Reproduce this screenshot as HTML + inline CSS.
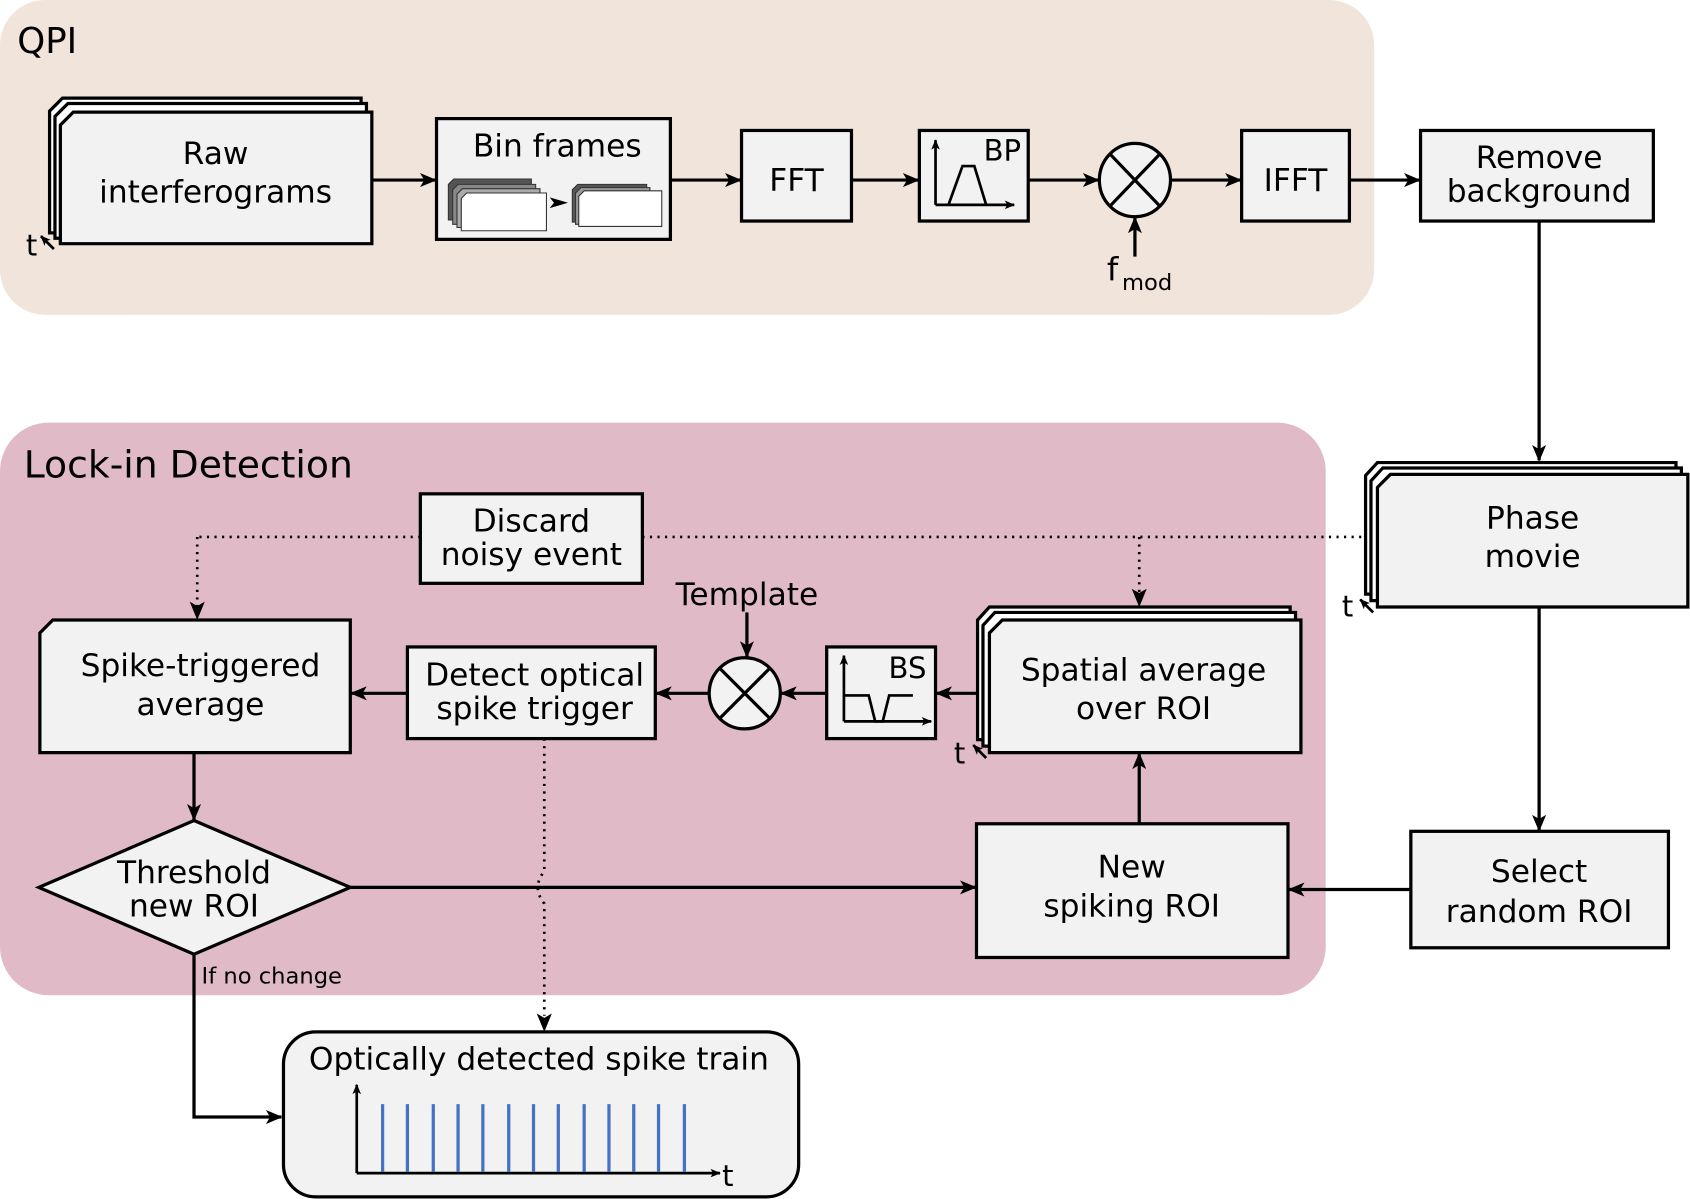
<!DOCTYPE html>
<html><head><meta charset="utf-8"><style>
html,body{margin:0;padding:0;background:#fff;}
svg{display:block;}
text{font-family:"DejaVu Sans","Liberation Sans",sans-serif;fill:#000;}
</style></head><body>
<svg width="1690" height="1199" viewBox="0 0 1568 1112" preserveAspectRatio="none" xmlns="http://www.w3.org/2000/svg">
<defs>
<marker id="ah" viewBox="0 0 12 10" refX="11" refY="5" markerWidth="18" markerHeight="13" markerUnits="userSpaceOnUse" orient="auto">
<path d="M0,0 L12,5 L0,10 L3,5 z" fill="#000"/></marker>
<marker id="ahs" viewBox="0 0 12 10" refX="11" refY="5" markerWidth="10" markerHeight="8" markerUnits="userSpaceOnUse" orient="auto">
<path d="M0,0 L12,5 L0,10 L3,5 z" fill="#000"/></marker>
</defs>
<rect x="0" y="0" width="1275" height="292" rx="42" fill="#f1e4db"/>
<rect x="0" y="392" width="1230" height="531" rx="45" fill="#e0bbc7"/>
<text x="16" y="49" font-size="33">QPI</text>
<text x="22" y="443" font-size="35">Lock-in Detection</text>

<g stroke="#000" stroke-width="3" fill="#f2f2f2">
<path d="M58,91 L335,91 L335,216 L46,216 L46,103 Z" fill="#fff"/>
<path d="M63,96 L340,96 L340,221 L51,221 L51,108 Z" fill="#fff"/>
<path d="M68,104 L345,104 L345,226 L56,226 L56,116 Z"/>
<rect x="405" y="110" width="217" height="112"/>
<rect x="688" y="121" width="102" height="84"/>
<rect x="853" y="121" width="101" height="84"/>
<ellipse cx="1053" cy="167" rx="33" ry="34"/>
<rect x="1152" y="121" width="100" height="84"/>
<rect x="1318" y="121" width="216" height="84"/>
<path d="M1278,429 L1555,429 L1555,551 L1267,551 L1267,441 Z" fill="#fff"/>
<path d="M1283,434 L1560,434 L1560,557 L1272,557 L1272,446 Z" fill="#fff"/>
<path d="M1290,440 L1566,440 L1566,563 L1278,563 L1278,452 Z"/>
<rect x="390" y="458" width="206" height="83"/>
<path d="M49,575 L325,575 L325,698 L37,698 L37,587 Z"/>
<rect x="378" y="600" width="230" height="85"/>
<ellipse cx="691" cy="643" rx="33" ry="33"/>
<rect x="767" y="600" width="101" height="85"/>
<path d="M918,563 L1197,563 L1197,686 L907,686 L907,575 Z" fill="#fff"/>
<path d="M923,568 L1202,568 L1202,692 L912,692 L912,580 Z" fill="#fff"/>
<path d="M930,575 L1207,575 L1207,698 L918,698 L918,587 Z"/>
<rect x="906" y="764" width="289" height="124"/>
<rect x="1309" y="771" width="239" height="108"/>
<path d="M180,761 L325,823 L180,885 L36,823 Z"/>
<rect x="263" y="957" width="478" height="153" rx="30"/>
</g>

<g stroke="#000" stroke-width="3">
<line x1="1030" y1="143" x2="1076" y2="191"/><line x1="1076" y1="143" x2="1030" y2="191"/>
<line x1="668" y1="620" x2="714" y2="666"/><line x1="714" y1="620" x2="668" y2="666"/>
</g>

<g stroke="#333" stroke-width="1">
<path d="M421,166 L493,166 L493,204 L416,204 L416,171 Z" fill="#555"/>
<path d="M425,171 L497,171 L497,208 L420,208 L420,176 Z" fill="#888"/>
<path d="M429,175 L501,175 L501,211 L424,211 L424,180 Z" fill="#aaa"/>
<path d="M433,179 L507,179 L507,214 L428,214 L428,184 Z" fill="#fff"/>
<path d="M536,171 L600,171 L600,206 L531,206 L531,176 Z" fill="#555"/>
<path d="M539,174 L603,174 L603,208 L534,208 L534,179 Z" fill="#999"/>
<path d="M542,177 L614,177 L614,210 L537,210 L537,182 Z" fill="#fff"/>
</g>
<path d="M510,183 L527,188 L510,193 L514,188 Z" fill="#000"/>

<g stroke="#000" stroke-width="2.5" fill="none">
<line x1="868" y1="190" x2="868" y2="130" marker-end="url(#ahs)"/>
<line x1="868" y1="190" x2="941" y2="190" marker-end="url(#ahs)"/>
<path d="M880,190 L893,154 L904,154 L915,190"/>
<line x1="783" y1="669" x2="783" y2="608" marker-end="url(#ahs)"/>
<line x1="783" y1="669" x2="864" y2="669" marker-end="url(#ahs)"/>
<path d="M783,645 L806,645 L812,669 L819,669 L825,645 L847,645"/>
</g>

<g stroke="#000" stroke-width="3" fill="none">
<line x1="345" y1="167" x2="404" y2="167" marker-end="url(#ah)"/>
<line x1="622" y1="167" x2="687" y2="167" marker-end="url(#ah)"/>
<line x1="790" y1="167" x2="852" y2="167" marker-end="url(#ah)"/>
<line x1="954" y1="167" x2="1019" y2="167" marker-end="url(#ah)"/>
<line x1="1087" y1="167" x2="1151" y2="167" marker-end="url(#ah)"/>
<line x1="1252" y1="167" x2="1317" y2="167" marker-end="url(#ah)"/>
<line x1="1053" y1="238" x2="1053" y2="202" marker-end="url(#ah)"/>
<line x1="1428" y1="205" x2="1428" y2="427" marker-end="url(#ah)"/>
<line x1="1428" y1="563" x2="1428" y2="770" marker-end="url(#ah)"/>
<line x1="1309" y1="825" x2="1196" y2="825" marker-end="url(#ah)"/>
<line x1="1057" y1="764" x2="1057" y2="699" marker-end="url(#ah)"/>
<line x1="325" y1="823" x2="905" y2="823" marker-end="url(#ah)"/>
<line x1="907" y1="643" x2="869" y2="643" marker-end="url(#ah)"/>
<line x1="767" y1="643" x2="725" y2="643" marker-end="url(#ah)"/>
<line x1="658" y1="643" x2="609" y2="643" marker-end="url(#ah)"/>
<line x1="378" y1="643" x2="326" y2="643" marker-end="url(#ah)"/>
<line x1="693" y1="568" x2="693" y2="609" marker-end="url(#ah)"/>
<line x1="180" y1="698" x2="180" y2="760" marker-end="url(#ah)"/>
<polyline points="180,885 180,1036 261,1036" marker-end="url(#ah)"/>
<line x1="50" y1="231" x2="38" y2="219" stroke-width="2.5" marker-end="url(#ahs)"/>
<line x1="1274" y1="568" x2="1262" y2="556" stroke-width="2.5" marker-end="url(#ahs)"/>
<line x1="915" y1="703" x2="903" y2="691" stroke-width="2.5" marker-end="url(#ahs)"/>
<line x1="331" y1="1088" x2="331" y2="1006" stroke-width="2.5" marker-end="url(#ahs)"/>
<line x1="331" y1="1088" x2="668" y2="1088" stroke-width="2.5" marker-end="url(#ahs)"/>
</g>

<g stroke="#000" stroke-width="2.5" fill="none" stroke-dasharray="2,5">
<line x1="390" y1="498" x2="183" y2="498"/>
<line x1="183" y1="498" x2="183" y2="562"/>
<line x1="596" y1="498" x2="1266" y2="498"/>
<line x1="1057" y1="498" x2="1057" y2="550"/>
<path d="M505,685 L505,808 Q493,823 505,838 L505,942"/>
</g>
<path d="M176,558 L183,575 L190,558 L183,562 Z" fill="#000"/>
<path d="M1050,546 L1057,563 L1064,546 L1057,550 Z" fill="#000"/>
<path d="M498,940 L505,957 L512,940 L505,944 Z" fill="#000"/>

<g stroke="#4472c4" stroke-width="3">
<line x1="355" y1="1024" x2="355" y2="1087"/><line x1="378" y1="1024" x2="378" y2="1087"/>
<line x1="402" y1="1024" x2="402" y2="1087"/><line x1="425" y1="1024" x2="425" y2="1087"/>
<line x1="448" y1="1024" x2="448" y2="1087"/><line x1="472" y1="1024" x2="472" y2="1087"/>
<line x1="495" y1="1024" x2="495" y2="1087"/><line x1="518" y1="1024" x2="518" y2="1087"/>
<line x1="542" y1="1024" x2="542" y2="1087"/><line x1="565" y1="1024" x2="565" y2="1087"/>
<line x1="588" y1="1024" x2="588" y2="1087"/><line x1="611" y1="1024" x2="611" y2="1087"/>
<line x1="635" y1="1024" x2="635" y2="1087"/>
</g>

<g font-size="29" text-anchor="middle">
<text x="200" y="152">Raw</text>
<text x="200" y="188">interferograms</text>
<text x="517" y="145">Bin frames</text>
<text x="739" y="177">FFT</text>
<text x="1202" y="177">IFFT</text>
<text x="1428" y="156">Remove</text>
<text x="1428" y="187">background</text>
<text x="1422" y="490">Phase</text>
<text x="1422" y="526">movie</text>
<text x="493" y="493">Discard</text>
<text x="493" y="524">noisy event</text>
<text x="693" y="561">Template</text>
<text x="186" y="627">Spike-triggered</text>
<text x="186" y="663">average</text>
<text x="496" y="636">Detect optical</text>
<text x="496" y="667">spike trigger</text>
<text x="1061" y="631">Spatial average</text>
<text x="1061" y="667">over ROI</text>
<text x="1050" y="814">New</text>
<text x="1050" y="850">spiking ROI</text>
<text x="1428" y="818">Select</text>
<text x="1428" y="855">random ROI</text>
<text x="180" y="819">Threshold</text>
<text x="180" y="850">new ROI</text>
<text x="500" y="992">Optically detected spike train</text>
</g>
<text x="930" y="149" font-size="27" text-anchor="middle">BP</text>
<text x="842" y="629" font-size="27" text-anchor="middle">BS</text>
<text x="1027" y="260" font-size="30">f</text>
<text x="1041" y="269" font-size="21">mod</text>
<text x="24" y="237" font-size="27">t</text>
<text x="1245" y="572" font-size="27">t</text>
<text x="885" y="708" font-size="27">t</text>
<text x="670" y="1100" font-size="27">t</text>
<text x="187" y="912" font-size="21">If no change</text>
</svg>
</body></html>
